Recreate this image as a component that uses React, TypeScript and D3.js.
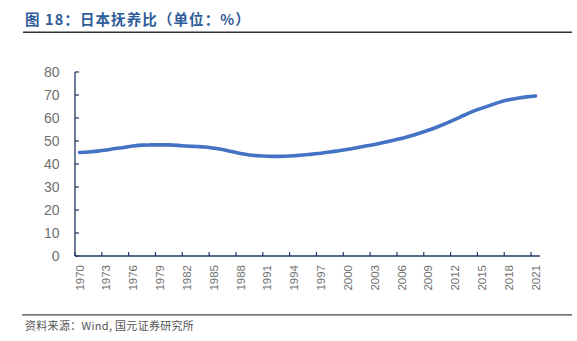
import React from "react";
import * as d3 from "d3";

const years: number[] = d3.range(1970, 2022);
const ratio: number[] = [
  45.0, 45.2, 45.6, 46.1, 46.7, 47.2, 47.8, 48.2, 48.3, 48.3,
  48.3, 48.1, 47.8, 47.6, 47.4, 46.9, 46.3, 45.4, 44.6, 43.9,
  43.6, 43.4, 43.3, 43.4, 43.6, 43.9, 44.3, 44.7, 45.2, 45.8,
  46.4, 47.1, 47.8, 48.5, 49.3, 50.2, 51.1, 52.2, 53.4, 54.7,
  56.1, 57.7, 59.4, 61.2, 62.9, 64.3, 65.6, 66.9, 67.9, 68.6,
  69.2, 69.6,
];
const yTicks: number[] = [0, 10, 20, 30, 40, 50, 60, 70, 80];
const labelEvery = 3;
const titleText = "图 18：日本抚养比（单位：%）";
const sourceText = "资料来源：Wind, 国元证券研究所";

const W = 577;
const H = 341;
const left = 75;
const right = 540;
const top = 72;
const bottom = 256;

export default function App() {
  const x = d3
    .scaleBand<number>()
    .domain(years)
    .range([left, right])
    .paddingInner(0)
    .paddingOuter(0);
  const y = d3.scaleLinear().domain([0, 80]).range([bottom, top]);
  const bw = x.bandwidth();
  const line = d3
    .line<number>()
    .x((_, i) => (x(years[i]) as number) + bw / 2)
    .y((d) => y(d))
    .curve(d3.curveCatmullRom.alpha(0.5));

  const axisColor = "#1f3864";
  const labelColor = "#6f6f6f";
  const tickIdx = years.map((_, i) => i).filter((i) => i % labelEvery === 0);

  return (
    <svg
      width={W}
      height={H}
      style={{ position: "absolute", left: 0, top: 0, background: "#fff" }}
    >
      <text
        x={25}
        y={24.5}
        fontFamily="'Noto Sans CJK SC', sans-serif"
        fontWeight="bold"
        fontSize={14.5}
        letterSpacing={1.1}
        fill="#2f5c9a"
      >
        {titleText}
      </text>
      <line x1={23} x2={572} y1={32.3} y2={32.3} stroke="#333" strokeWidth={1.5} />

      {/* y axis */}
      <line x1={left} x2={left} y1={top} y2={bottom} stroke={axisColor} strokeWidth={1.3} />
      {yTicks.map((t) => (
        <g key={t}>
          <line x1={left} x2={left + 4} y1={y(t)} y2={y(t)} stroke={axisColor} strokeWidth={1.2} />
          <text
            x={59.5}
            y={y(t)}
            dy="0.36em"
            textAnchor="end"
            fontFamily="'Liberation Sans', Arial, sans-serif"
            fontSize={14}
            fill={labelColor}
          >
            {t}
          </text>
        </g>
      ))}

      {/* x axis */}
      <line x1={left} x2={right} y1={bottom} y2={bottom} stroke={axisColor} strokeWidth={1.3} />
      {tickIdx.map((i) => {
        const xt = x(years[i]) as number;
        return (
          <line key={"t" + i} x1={xt} x2={xt} y1={bottom} y2={bottom - 4} stroke={axisColor} strokeWidth={1.2} />
        );
      })}
      {tickIdx.map((i) => {
        const xc = (x(years[i]) as number) + bw / 2;
        return (
          <text
            key={"l" + i}
            transform={`translate(${xc + 4.2},265) rotate(-90)`}
            textAnchor="end"
            fontFamily="'Liberation Sans', Arial, sans-serif"
            fontSize={11.5}
            fill={labelColor}
          >
            {years[i]}
          </text>
        );
      })}

      <path
        d={line(ratio) || ""}
        fill="none"
        stroke="#4472c4"
        strokeWidth={3.6}
        strokeLinecap="round"
        strokeLinejoin="round"
      />

      <line x1={22} x2={572} y1={314.8} y2={314.8} stroke="#7a7a7a" strokeWidth={1.8} />
      <text
        x={25}
        y={330}
        fontFamily="'Noto Sans CJK SC', sans-serif"
        fontSize={11}
        letterSpacing={0.3}
        fill="#555"
      >
        {sourceText}
      </text>
    </svg>
  );
}
